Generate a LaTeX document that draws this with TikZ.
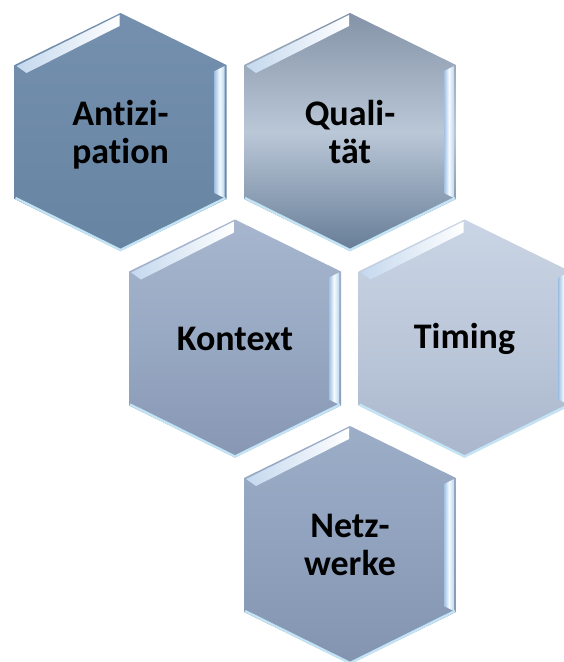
\documentclass[tikz,border=0pt]{standalone}
\usepackage{fontspec}
\setmainfont{Carlito}[Ligatures=NoCommon]
\definecolor{rimcyan}{HTML}{C3E4F4}
\definecolor{ridgeblue}{HTML}{A2C2E4}
\definecolor{ridgelight}{HTML}{F4FAFE}
\definecolor{ridgeedge}{HTML}{BCD9EF}
\definecolor{glintblue}{HTML}{C4D8EE}
% hexagon fills: top / middle / bottom
\definecolor{aTop}{HTML}{7490AE}\definecolor{aMid}{HTML}{6E8AA9}\definecolor{aBot}{HTML}{6884A3}
\definecolor{qTop}{HTML}{8493A7}\definecolor{qMid}{HTML}{BAC7D7}\definecolor{qBot}{HTML}{667D97}
\definecolor{kTop}{HTML}{A7B6CE}\definecolor{kMid}{HTML}{98A9C3}\definecolor{kBot}{HTML}{8797B4}
\definecolor{tTop}{HTML}{C9D4E4}\definecolor{tMid}{HTML}{BCC8DA}\definecolor{tBot}{HTML}{A9B6CC}
\definecolor{nTop}{HTML}{9CADC7}\definecolor{nMid}{HTML}{90A2BE}\definecolor{nBot}{HTML}{8394B1}

% #1 name, #2 cx, #3 cy, #4 top, #5 middle, #6 bottom colour, #7 text, #8 text offset
\newcommand\hexcell[8]{%
  \begin{scope}[shift={(#2,#3)}]
    \shade[top color=#4, bottom color=#6, middle color=#5]
      (0,-119) -- (106,-67) -- (106,67) -- (0,119) -- (-106,67) -- (-106,-67) -- cycle;
    % bevel highlight on the upper left side
    \shade[left color=glintblue, right color=white]
      (-104,-66) -- (-1,-117) -- (-1,-106) -- (-94,-59) -- cycle;
    % bevel highlight on the right side
    \shade[left color=ridgeblue, right color=ridgeedge, middle color=ridgelight]
      (94,-61) -- (104,-66) -- (104,66) -- (94,61) -- cycle;
    % light rim along the lower sides
    \draw[hexrim] (-105,66) -- (0,118) -- (105,66);
    \node[hexlabel] (#1) at (0,#8) {#7};
  \end{scope}
}

\begin{document}
\begin{tikzpicture}[x=1pt,y=-1pt,
  hexlabel/.style={font=\bfseries\fontsize{36}{38}\selectfont, align=center,
                   text=black, inner sep=0pt},
  hexrim/.style={draw=rimcyan, line width=2.4pt, line join=miter}]
  \useasboundingbox (0,0) rectangle (564,662);
  \clip (0,0) rectangle (564,662);
  \fill[white] (0,0) rectangle (564,662);

  \hexcell{antizipation}{120.5}{132}{aTop}{aMid}{aBot}{Antizi-\\pation}{3}
  \hexcell{qualitaet}{350}{132}{qTop}{qMid}{qBot}{Quali-\\tät}{0}
  \hexcell{kontext}{235}{338.5}{kTop}{kMid}{kBot}{Kontext}{0}
  \hexcell{timing}{464.5}{338.5}{tTop}{tMid}{tBot}{Timing}{0}
  \hexcell{netzwerke}{350}{545}{nTop}{nMid}{nBot}{Netz-\\werke}{0}
\end{tikzpicture}
\end{document}
